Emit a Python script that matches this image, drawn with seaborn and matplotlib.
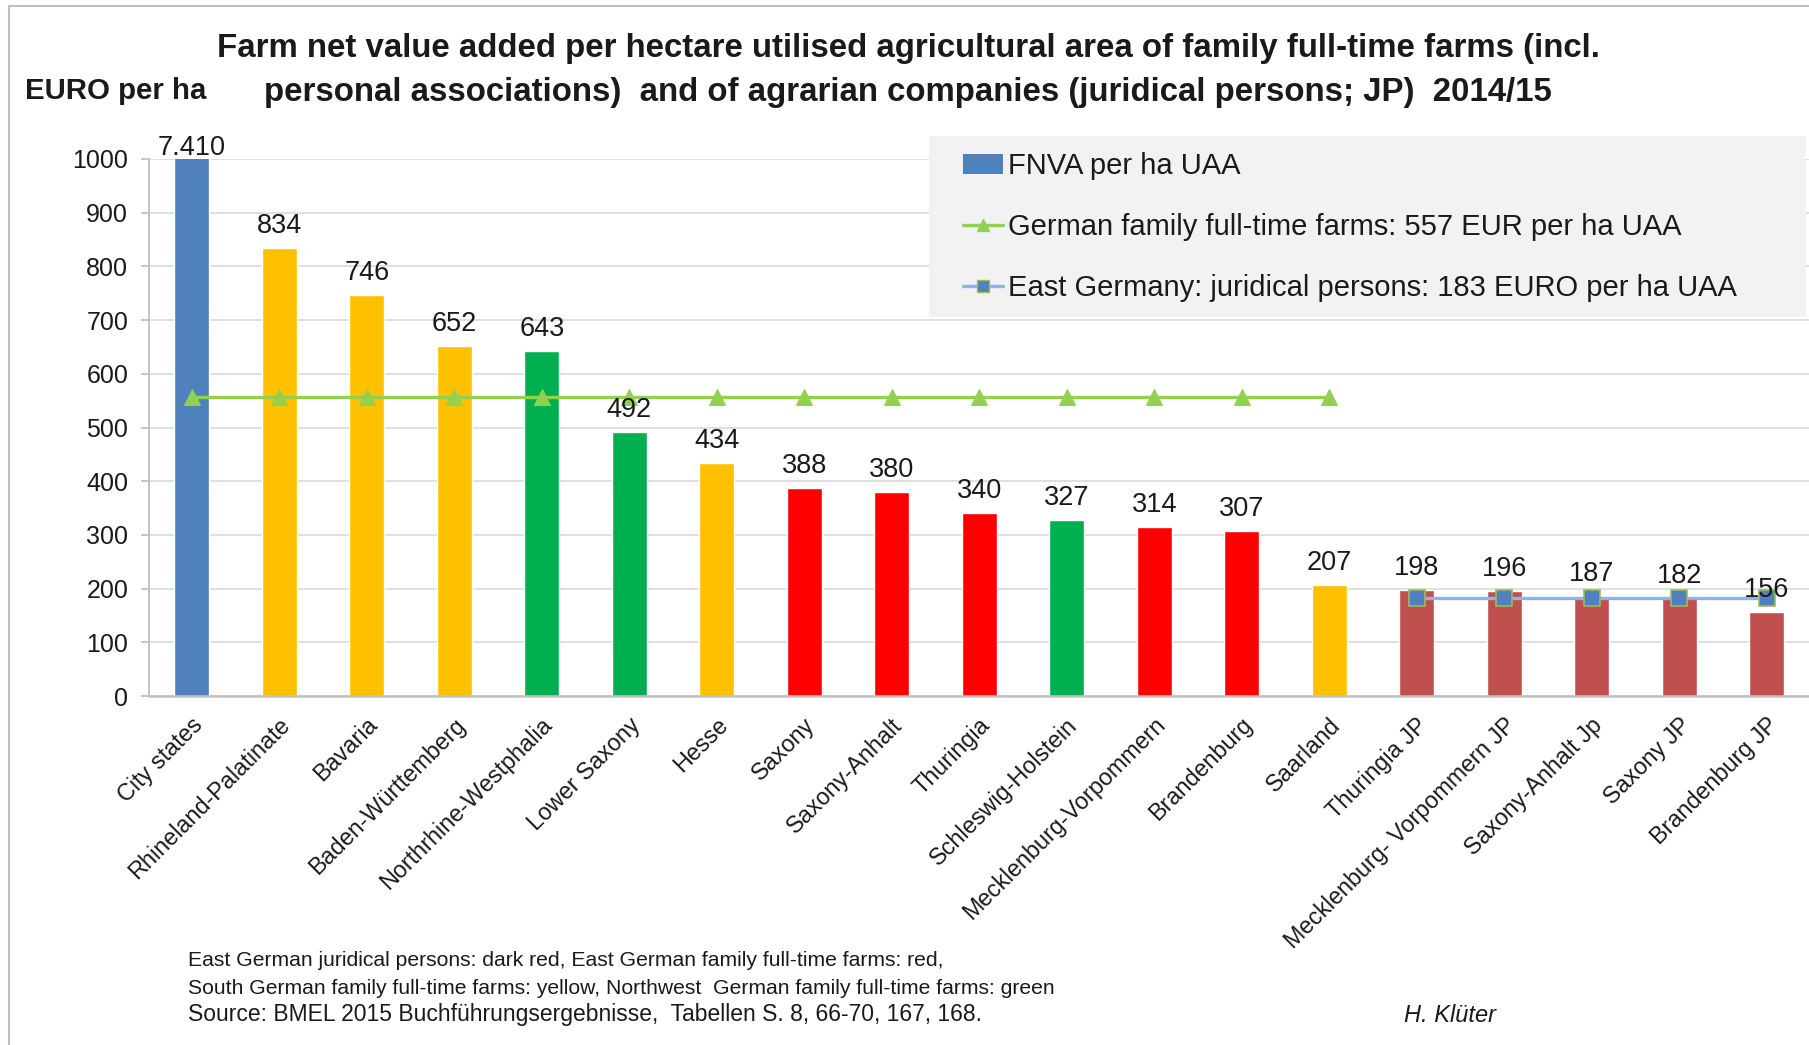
import matplotlib
matplotlib.use("Agg")
import matplotlib.pyplot as plt
import matplotlib.transforms as mtransforms
from matplotlib.lines import Line2D
from matplotlib.patches import Patch, Rectangle
import seaborn as sns
import pandas as pd

# ---------------- data ----------------
categories = ["City states", "Rhineland-Palatinate", "Bavaria", "Baden-Württemberg",
              "Northrhine-Westphalia", "Lower Saxony", "Hesse", "Saxony", "Saxony-Anhalt",
              "Thuringia", "Schleswig-Holstein", "Mecklenburg-Vorpommern", "Brandenburg",
              "Saarland", "Thuringia JP", "Mecklenburg- Vorpommern JP", "Saxony-Anhalt Jp",
              "Saxony JP", "Brandenburg JP"]
fnva_values = [7410, 834, 746, 652, 643, 492, 434, 388, 380, 340, 327, 314, 307,
               207, 198, 196, 187, 182, 156]
groups = ["City", "South", "South", "South", "Northwest", "Northwest", "South", "East",
          "East", "East", "Northwest", "East", "East", "South", "EastJP", "EastJP",
          "EastJP", "EastJP", "EastJP"]
group_colors = {"City": "#4F81BD", "South": "#FFC000", "Northwest": "#00B050",
                "East": "#FF0000", "EastJP": "#C0504D"}

family_line_cats = categories[:14]
family_line_values = [557, 557, 557, 557, 557, 557, 557, 557, 557, 557, 557, 557, 557, 557]
jp_line_cats = categories[14:]
jp_line_values = [183, 183, 183, 183, 183]

yticks = [0, 100, 200, 300, 400, 500, 600, 700, 800, 900, 1000]

legend_labels = ["FNVA per ha UAA",
                 "German family full-time farms: 557 EUR per ha UAA",
                 "East Germany: juridical persons: 183 EURO per ha UAA"]

title_lines = ["Farm net value added per hectare utilised agricultural area of family full-time farms (incl.",
               "personal associations)  and of agrarian companies (juridical persons; JP)  2014/15"]
notes = ["East German juridical persons: dark red, East German family full-time farms: red,",
         "South German family full-time farms: yellow, Northwest  German family full-time farms: green",
         "Source: BMEL 2015 Buchführungsergebnisse,  Tabellen S. 8, 66-70, 167, 168."]
author = "H. Klüter"

# ---------------- figure ----------------
sns.set_theme(style="white")
plt.rcParams["font.family"] = ["Liberation Sans", "DejaVu Sans"]
NARROW = ["Liberation Sans Narrow", "Liberation Sans", "DejaVu Sans"]
TXT = "#1a1a1a"

W, H = 1809, 1045
fig = plt.figure(figsize=(W / 100, H / 100), dpi=100)
fig.patch.set_facecolor("white")

ax_left, ax_bottom, ax_top = 149, 696, 159
ax = fig.add_axes([ax_left / W, 1 - ax_bottom / H, (W - ax_left) / W, (ax_bottom - ax_top) / H])

df = pd.DataFrame({"cat": categories, "val": fnva_values, "grp": groups})
palette = {c: group_colors[g] for c, g in zip(categories, groups)}
sns.barplot(data=df, x="cat", y="val", hue="cat", palette=palette, legend=False,
            width=0.4, saturation=1, ax=ax, zorder=2)

pos = {c: i for i, c in enumerate(categories)}
sns.lineplot(x=[pos[c] for c in family_line_cats], y=family_line_values, ax=ax,
             color="#92D050", linewidth=2.4, marker="^", markersize=11.5,
             markerfacecolor="#92D050", markeredgecolor="#92D050", zorder=4)
sns.lineplot(x=[pos[c] for c in jp_line_cats], y=jp_line_values, ax=ax,
             color="#8DB4E2", linewidth=2.4, marker="s", markersize=11.5,
             markerfacecolor="#4F81BD", markeredgecolor="#9BBB59", markeredgewidth=1.2,
             zorder=4)

ax.set_xlim(-0.49, 18.48)
ax.set_ylim(0, 1000)
ax.set_yticks(yticks)
ax.set_yticklabels([str(t) for t in yticks], fontsize=18, color=TXT)
ax.set_xlabel("")
ax.set_ylabel("")
ax.yaxis.grid(True, color="#D9D9D9", linewidth=1.2, zorder=0)
ax.set_axisbelow(True)
for s in ["top", "right"]:
    ax.spines[s].set_visible(False)
ax.spines["left"].set_color("#BFBFBF")
ax.spines["bottom"].set_color("#BFBFBF")
ax.spines["left"].set_linewidth(1.3)
ax.spines["bottom"].set_linewidth(1.8)
ax.tick_params(axis="y", left=True, length=6, color="#BFBFBF", pad=9)
ax.tick_params(axis="x", bottom=False, pad=6.5)

ax.set_xticks(range(len(categories)))
ax.set_xticklabels(categories, rotation=45, ha="right", rotation_mode="anchor",
                   fontsize=16.8, color=TXT)
offset = mtransforms.ScaledTranslation(-1 / 100, 0, fig.dpi_scale_trans)
for lab in ax.get_xticklabels():
    lab.set_transform(lab.get_transform() + offset)

# value labels
ymax = 1000
for i, v in enumerate(fnva_values):
    shown = min(v, ymax)
    txt = f"{v:,}".replace(",", ".")
    dy = 4 if v > ymax else 15
    ax.annotate(txt, (i, shown), xytext=(0, dy), textcoords="offset pixels",
                ha="center", va="baseline", fontsize=19.5, color=TXT,
                annotation_clip=False, zorder=5)

# legend (grey background box + frameless legend)
leg_l, leg_r, leg_t, leg_b = 929, 1806, 136, 317
fig.add_artist(Rectangle((leg_l / W, 1 - leg_b / H), (leg_r - leg_l) / W, (leg_b - leg_t) / H,
                         transform=fig.transFigure, facecolor="#F2F2F2", edgecolor="none",
                         zorder=3))
handles = [Patch(facecolor="#4F81BD", edgecolor="none"),
           Line2D([0], [0], color="#92D050", lw=2.4, marker="^", markersize=9,
                  markerfacecolor="#92D050", markeredgecolor="#92D050"),
           Line2D([0], [0], color="#8DB4E2", lw=2.4, marker="s", markersize=9,
                  markerfacecolor="#4F81BD", markeredgecolor="#9BBB59")]
leg = fig.legend(handles, legend_labels, loc="upper left",
                 bbox_to_anchor=(963 / W, 1 - 152 / H), frameon=False, fontsize=21,
                 handlelength=1.38, handletextpad=0.16, labelspacing=1.13,
                 borderpad=0, borderaxespad=0)
leg.set_zorder(4)
for t in leg.get_texts():
    t.set_color(TXT)

# title and texts
fig.text(0.502, 1 - 48 / H, title_lines[0], ha="center", va="center", fontsize=23.8,
         fontweight="bold", family=NARROW, color=TXT)
fig.text(0.502, 1 - 92 / H, title_lines[1], ha="center", va="center", fontsize=23.8,
         fontweight="bold", family=NARROW, color=TXT)
fig.text(25 / W, 1 - 91 / H, "EURO per ha", ha="left", va="center", fontsize=21.2,
         fontweight="bold", family=NARROW, color=TXT)

fig.text(188 / W, 1 - 960 / H, notes[0], ha="left", va="center", fontsize=15.2,
         family=NARROW, color=TXT)
fig.text(188 / W, 1 - 989 / H, notes[1], ha="left", va="center", fontsize=15.2,
         family=NARROW, color=TXT)
fig.text(188 / W, 1 - 1015 / H, notes[2], ha="left", va="center", fontsize=16.5,
         family=NARROW, color=TXT)
fig.text(1450 / W, 1 - 1015 / H, author, ha="center", va="center", fontsize=17,
         family=NARROW, style="italic", color=TXT)

# outer frame (left and top edges)
fig.add_artist(Line2D([9 / W, 9 / W], [0, 1 - 6 / H], transform=fig.transFigure,
                      color="#BFBFBF", lw=1.5))
fig.add_artist(Line2D([9 / W, 1], [1 - 6 / H, 1 - 6 / H], transform=fig.transFigure,
                      color="#BFBFBF", lw=1.5))

fig.savefig("out.png", dpi=100, facecolor="white")
